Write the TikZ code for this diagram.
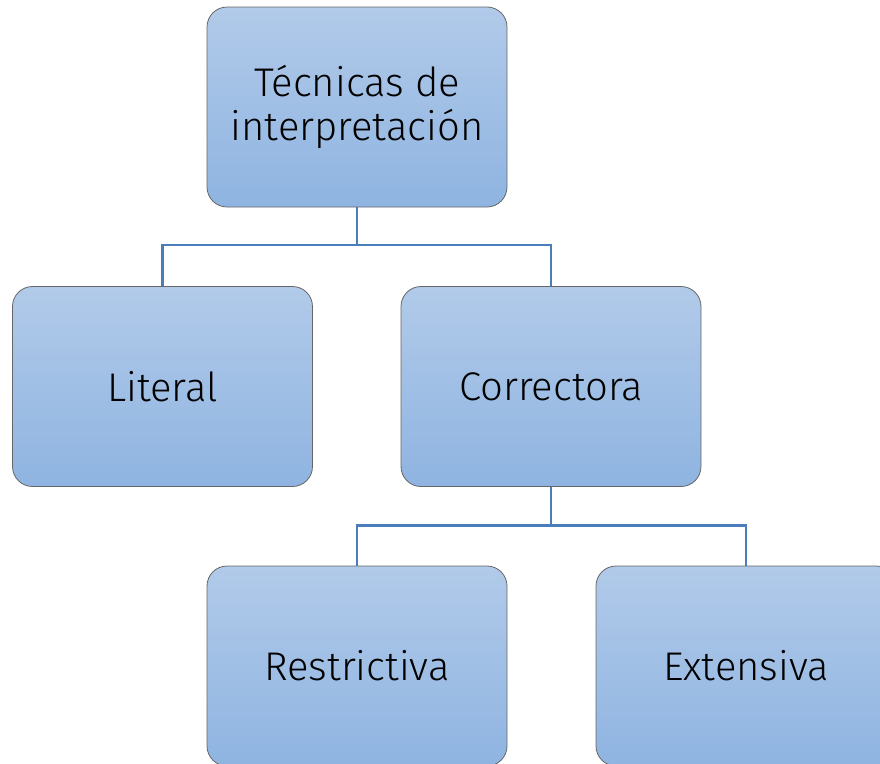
\documentclass[tikz,border=0pt]{standalone}
\usepackage{fontspec}
\setmainfont{Fira Sans}[UprightFont=* Light]
\usetikzlibrary{positioning}

\tikzset{
    caja/.style={rectangle, rounded corners=20pt, minimum width=300pt, minimum height=200pt,
        draw=black!60, line width=0.8pt, top color=azulA, bottom color=azulB,
        align=center, font=\fontsize{40}{44}\selectfont, text=black},
    rama/.style={draw=lineaazul, line width=2.4pt}
}
\definecolor{azulA}{HTML}{B1CAE9}
\definecolor{azulB}{HTML}{8FB4E1}
\definecolor{lineaazul}{HTML}{4A7EBB}

\begin{document}
\begin{tikzpicture}[x=1pt,y=-1pt]
                \useasboundingbox (0,0) rectangle (880,763);
                \clip (0,0) rectangle (880,763);

                % arbol
                \node[caja] (tec) at (357,107) {T\'ecnicas de\\interpretaci\'on};
                \node[caja] (lit) at (162.5,386.5) {Literal};
                \node[caja] (cor) at (551,386.5) {Correctora};
                \node[caja] (res) at (357,666) {Restrictiva};
                \node[caja] (ext) at (746,666) {Extensiva};

                \draw[rama] (lit.north) -- ++(0,-41) -| (cor.north);
                \draw[rama] (tec.south) -- ++(0,39);
                \draw[rama] (res.north) -- ++(0,-40) -| (ext.north);
                \draw[rama] (cor.south) -- ++(0,40);

\end{tikzpicture}
\end{document}
